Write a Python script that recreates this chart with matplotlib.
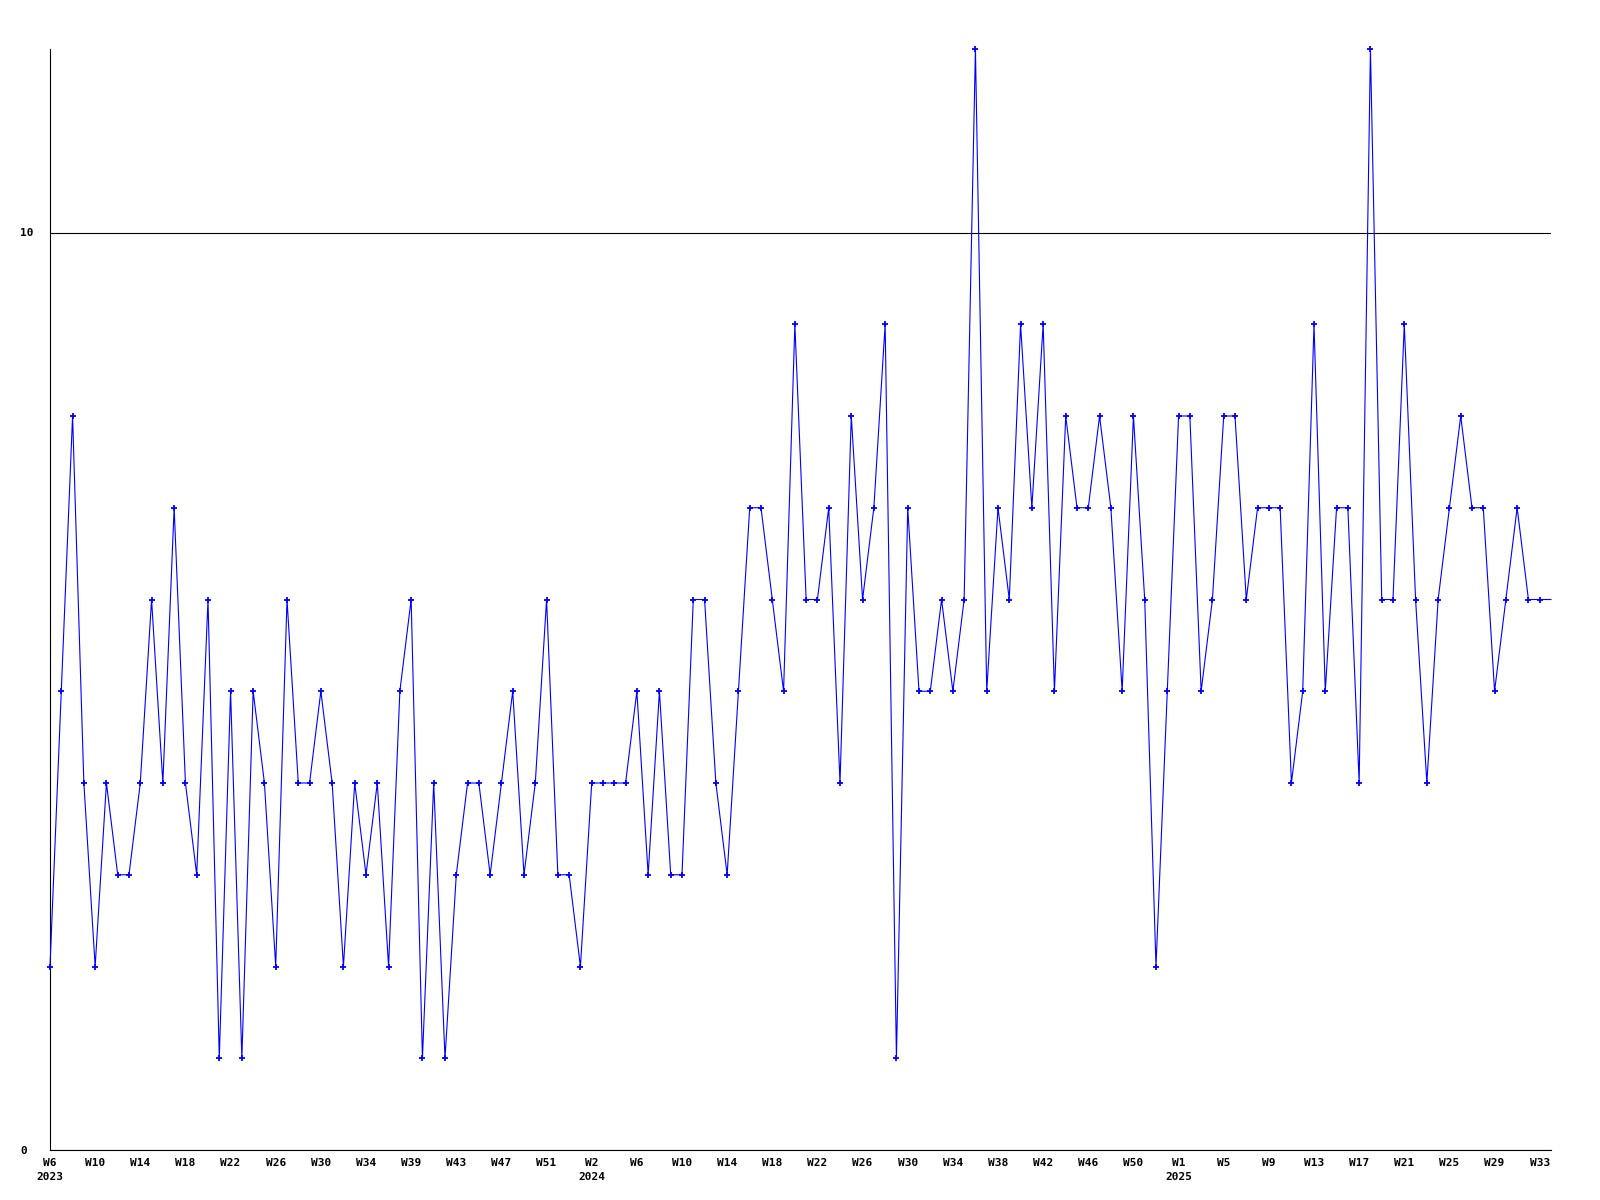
import matplotlib.pyplot as plt

# weekly counts, 2023 W6 .. 2025 W33 (+ one more week at the right edge)
values = [2, 5, 8, 4, 2, 4, 3, 3, 4, 6, 4, 7, 4, 3, 6, 1, 5, 1, 5, 4,
          2, 6, 4, 4, 5, 4, 2, 4, 3, 4, 2, 5, 6, 1, 4, 1, 3, 4, 4, 3,
          4, 5, 3, 4, 6, 3, 3, 2, 4, 4, 4, 4, 5, 3, 5, 3, 3, 6, 6, 4,
          3, 5, 7, 7, 6, 5, 9, 6, 6, 7, 4, 8, 6, 7, 9, 1, 7, 5, 5, 6,
          5, 6, 12, 5, 7, 6, 9, 7, 9, 5, 8, 7, 7, 8, 7, 5, 8, 6, 2, 5,
          8, 8, 5, 6, 8, 8, 6, 7, 7, 7, 4, 5, 9, 5, 7, 7, 4, 12, 6, 6,
          9, 6, 4, 6, 7, 8, 7, 7, 5, 6, 7, 6, 6, 6]

# one label every 4 weeks
week_labels = ['W6\n2023', 'W10', 'W14', 'W18', 'W22', 'W26', 'W30', 'W34',
               'W39', 'W43', 'W47', 'W51', 'W2\n2024', 'W6', 'W10', 'W14',
               'W18', 'W22', 'W26', 'W30', 'W34', 'W38', 'W42', 'W46',
               'W50', 'W1\n2025', 'W5', 'W9', 'W13', 'W17', 'W21', 'W25',
               'W29', 'W33']

x = list(range(len(values)))

fig = plt.figure(figsize=(16, 12), dpi=100)
ax = fig.add_axes([50/1600, 1 - 1150/1200, 1501/1600, 1101/1200])

ax.plot(x, values, color='#0000ff', lw=0.8, marker='+', ms=5, mew=1.3,
        markevery=list(range(len(values) - 1)), clip_on=False, zorder=3)

ax.set_xlim(0, len(values) - 1)
ax.set_ylim(0, 12)

ax.set_yticks([0, 10])
ax.set_yticklabels(['0', '10'])
ax.grid(axis='y', color='black', lw=0.8)
ax.set_axisbelow(True)

ax.set_xticks(x[::4])
ax.set_xticklabels(week_labels, linespacing=1.4)

for s in ['top', 'right']:
    ax.spines[s].set_visible(False)
for s in ['left', 'bottom']:
    ax.spines[s].set_color('black')
    ax.spines[s].set_linewidth(0.8)

ax.tick_params(axis='x', length=0, pad=6)
ax.tick_params(axis='y', length=0, pad=21.6)
for lab in ax.get_xticklabels() + ax.get_yticklabels():
    lab.set_fontfamily('DejaVu Sans Mono')
    lab.set_fontweight('bold')
    lab.set_fontsize(8)
for lab in ax.get_yticklabels():
    lab.set_horizontalalignment('left')

plt.savefig('out.png')
